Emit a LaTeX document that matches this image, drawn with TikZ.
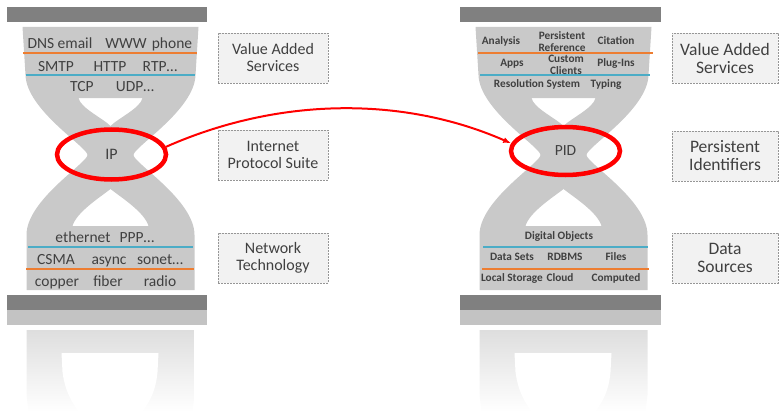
\documentclass[tikz,border=0pt]{standalone}
\usepackage{fontspec}
\setmainfont{Carlito}
\usetikzlibrary{shapes.geometric,arrows.meta}

\definecolor{barGray}{RGB}{128,128,128}
\definecolor{bulbGray}{RGB}{201,201,201}
\definecolor{lineOrange}{RGB}{237,125,49}
\definecolor{lineBlue}{RGB}{75,172,198}
\definecolor{txtGray}{RGB}{64,64,64}
\definecolor{boxFill}{RGB}{242,242,242}
\definecolor{boxLine}{RGB}{150,150,150}
\definecolor{mirrorBar}{RGB}{195,195,195}
\definecolor{mirrorTop}{RGB}{222,222,222}

\tikzset{
  % one hourglass body with its faded mirror image, centred on x = 0
  hourglass/.pic={
    \fill[bulbGray, even odd rule]
      (-88,27) -- (-85,75) .. controls (-84,110) and (-23,147) .. (-23,155)
      .. controls (-23,163) and (-84,200) .. (-84,235) -- (-84,290) -- (84,290) -- (84,235)
      .. controls (84,200) and (23,163) .. (23,155)
      .. controls (23,147) and (84,110) .. (85,75) -- (88,27) -- cycle
      (-32,98) -- (32,98) .. controls (30,108) and (8,118) .. (0,126)
      .. controls (-8,118) and (-30,108) .. (-32,98) -- cycle
      (0,189) .. controls (-10,197) and (-34,212) .. (-38,226) -- (38,226)
      .. controls (34,212) and (10,197) .. (0,189) -- cycle;
    \shade[top color=mirrorTop, bottom color=white]
      (-84,330) -- (-84,395) -- (-82,412) -- (82,412) -- (84,395) -- (84,330) -- cycle;
    \fill[white]
      (-49,353) -- (48,353) -- (47,372) .. controls (45,395) and (36,405) .. (32,412)
      -- (-32,412) .. controls (-36,405) and (-45,395) .. (-48,372) -- cycle;
  },
  lay/.style={font=\fontsize{15.5}{17}\selectfont, text=txtGray, inner sep=0pt, anchor=base},
  pidword/.style={font=\fontsize{11.3}{12.7}\selectfont\bfseries, text=txtGray, inner sep=0pt, anchor=base},
  pidstack/.style={font=\fontsize{11.3}{11.7}\selectfont\bfseries, text=txtGray, inner sep=0pt, align=center},
  divider/.style={line width=2.2pt},
  note/.style={draw=boxLine, fill=boxFill, dash pattern=on 2pt off 1pt, line width=0.7pt,
    align=center, text=txtGray, inner sep=0pt, minimum height=50pt},
  ring/.style={ellipse, draw=red, line width=4.5pt, minimum width=109pt, minimum height=50pt,
    inner sep=0pt, text=txtGray},
  link/.style={draw=red, line width=2pt, -{Latex[length=8pt,width=6pt]}},
}

\begin{document}
\begin{tikzpicture}[x=1pt,y=-1pt]
\useasboundingbox (0,0) rectangle (779,412);

% ---------- bodies ----------
\pic at (110.5,0) {hourglass};
\pic at (563.5,0) {hourglass};

% ---------- bars and their reflections ----------
\fill[barGray] (7,7) rectangle (207,22);
\fill[barGray] (7,295) rectangle (207,310);
\fill[mirrorBar] (7,310) rectangle (207,325);
\fill[barGray] (460,7) rectangle (661,22);
\fill[barGray] (460,295) rectangle (661,310);
\fill[mirrorBar] (460,310) rectangle (661,325);

% ---------- layer dividers ----------
\draw[divider, lineOrange] (23,53) -- (197,53);
\draw[divider, lineBlue] (26,75) -- (195,75);
\draw[divider, lineBlue] (28,247) -- (193,247);
\draw[divider, lineOrange] (26,269) -- (194,269);
\draw[divider, lineOrange] (478,53) -- (653,53);
\draw[divider, lineBlue] (480,75) -- (650,75);
\draw[divider, lineBlue] (483,247) -- (648,247);
\draw[divider, lineOrange] (482,269) -- (649,269);

% ---------- internet stack ----------
\node[lay] (dns) at (41,48.5) {DNS};
\node[lay] (email) at (75,48.5) {email};
\node[lay] (www) at (126,48.5) {WWW};
\node[lay] (phone) at (172,48.5) {phone};
\node[lay] (smtp) at (56,71) {SMTP};
\node[lay] (http) at (110,71) {HTTP};
\node[lay] (rtp) at (160,71) {RTP…};
\node[lay] (tcp) at (82,92) {TCP};
\node[lay] (udp) at (135,92) {UDP…};
\node[lay] (eth) at (83,242.5) {ethernet};
\node[lay] (ppp) at (137,242.5) {PPP…};
\node[lay] (csma) at (56,264) {CSMA};
\node[lay] (async) at (109,264) {async};
\node[lay] (sonet) at (160,264) {sonet…};
\node[lay] (copper) at (57,286) {copper};
\node[lay] (fiber) at (108,286) {fiber};
\node[lay] (radio) at (160,286) {radio};

% ---------- identifier stack ----------
\node[pidword] (analysis) at (501,45) {Analysis};
\node[pidstack] (persref) at (562,41.5) {Persistent\\Reference};
\node[pidword] (citation) at (616,45) {Citation};
\node[pidword] (apps) at (512,66.7) {Apps};
\node[pidstack] (custom) at (566,64.5) {Custom\\Clients};
\node[pidword] (plugins) at (616,66.7) {Plug-Ins};
\node[pidword] (resol) at (537,87.3) {Resolution System};
\node[pidword] (typing) at (606,87.3) {Typing};
\node[pidword] (digobj) at (559,239.3) {Digital Objects};
\node[pidword] (datasets) at (512,260.7) {Data Sets};
\node[pidword] (rdbms) at (565,260.7) {RDBMS};
\node[pidword] (files) at (616,260.7) {Files};
\node[pidword] (local) at (512,281.7) {Local Storage};
\node[pidword] (cloud) at (560,281.7) {Cloud};
\node[pidword] (computed) at (616,281.7) {Computed};

% ---------- side labels ----------
\begin{scope}[every node/.append style={font=\fontsize{16}{17}\selectfont, minimum width=110pt}]
\node[note] (vasL) at (273,58) {Value Added\\Services};
\node[note] (ips) at (273,155) {Internet\\Protocol Suite};
\node[note] (nettech) at (273,258) {Network\\Technology};
\end{scope}
\begin{scope}[every node/.append style={font=\fontsize{17.5}{18}\selectfont, minimum width=106pt}]
\node[note] (vasR) at (725,58) {Value Added\\Services};
\node[note] (pids) at (725,156) {Persistent\\Identifiers};
\node[note] (datasrc) at (725,258) {Data\\Sources};
\end{scope}

% ---------- narrow waists ----------
\node[ring, font=\fontsize{16}{17}\selectfont] (ip) at (111.5,154.5) {IP};
\node[ring, font=\fontsize{15.5}{17}\selectfont, minimum height=48pt] (pid) at (565.5,151) {PID};

\draw[link] (ip.8) .. controls (276,98) and (401,95) .. (pid.172);
\end{tikzpicture}
\end{document}
